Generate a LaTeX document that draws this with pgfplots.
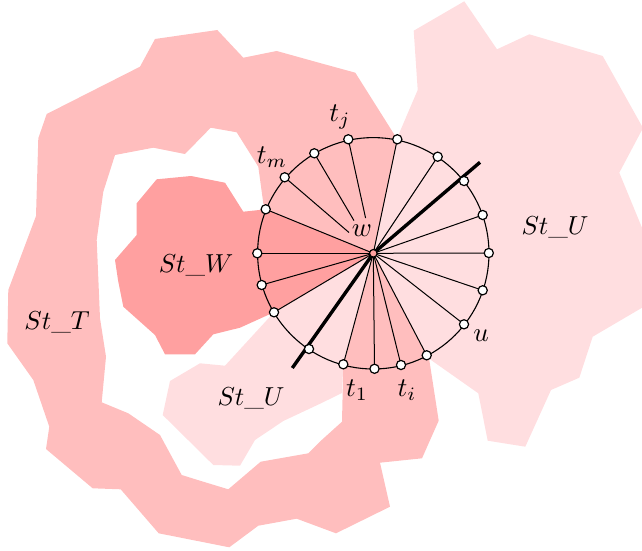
\documentclass[border=0pt]{standalone}
\usepackage{pgfplots}
\pgfplotsset{compat=1.18}
\definecolor{cT}{RGB}{255,190,190}
\definecolor{cW}{RGB}{255,160,160}
\definecolor{cU}{RGB}{255,222,224}
\begin{document}
\begin{tikzpicture}
\begin{axis}[x=0.5pt,y=0.5pt,xmin=0,xmax=642,ymin=0,ymax=551,y dir=reverse,
  hide axis,clip=true]
\addplot[draw=none,forget plot] coordinates {(0,0) (642,551)};
% St_T
\addplot[fill=cT,draw=none] coordinates {
(397.3,139.3) (355.3,72.7) (321,63.3) (276.7,51) (243.3,57.7) (217.3,30) (155,39) (140,66.7)
(46.7,114) (38.3,138.3) (36,216) (8.3,290) (7.3,343.3) (33.3,380) (49.3,426.7) (46,449)
(92.7,488.3) (120.7,489.3) (158.7,533.3) (229.3,547.3) (258.3,525.7) (296.7,518.7) (336,533.3)
(390,506.7) (380,462.7) (422,458.3) (438.7,420.7) (429.3,360) (426.7,355.3) (373.3,253.3)
(343.3,364.3) (342,421.7) (321.7,440) (308.3,453.3) (260.7,461.7) (228.3,489.3) (200,480.7)
(181.7,475) (160,435) (128.3,413.3) (101.7,402.3) (106,356.7) (100,318.3) (96.7,240)
(103.3,191.7) (115,155) (153.3,147.7) (185,154) (210.7,127.7) (236.7,132.3) (258.3,166.7)
(263.3,203.3) (265.7,209.3) (373.3,253.3) (397.3,139.3)};
% St_U right
\addplot[fill=cU,draw=none] coordinates {
(397.3,139.3) (397.7,136.7) (417.7,90) (413.7,30.7) (464.3,1.3) (497,49.3) (529.3,34.3)
(602.7,56) (643,128) (619.3,172.7) (645,235) (645,306) (592.7,336.7) (579.3,377.7) (551,390)
(525.3,446.7) (487.7,440.7) (478.3,393.3) (431,360) (426.7,355.3) (373.3,253.3) (397.3,139.3)};
% St_W
\addplot[fill=cW,draw=none] coordinates {
(265.7,209.3) (243.3,211.7) (225,182.7) (191,176) (156.7,179.3) (136.7,203.3) (136.7,235)
(115,260) (118,280) (123.3,306.7) (155,335) (165,354.3) (195,354.3) (213.3,334.3) (240,327.7)
(274,312.3) (373.3,253.3) (265.7,209.3)};
% St_U lower
\addplot[fill=cU,draw=none] coordinates {
(274,312.3) (225,365.7) (200,363.3) (170,381) (162.7,415) (213.3,465) (240,465.7) (255,440)
(283.3,421) (321,403.3) (342,393) (343.3,364.3) (373.3,253.3) (274,312.3)};
% spokes
\addplot[black,line width=0.5pt] coordinates {(373.3,253.3) (257.3,253.3)};
\addplot[black,line width=0.5pt] coordinates {(373.3,253.3) (265.7,209.3)};
\addplot[black,line width=0.5pt] coordinates {(349.0,232.5) (284.7,177.3)};
\addplot[black,line width=0.5pt] coordinates {(354.0,220.6) (314.3,153.3)};
\addplot[black,line width=0.5pt] coordinates {(365.6,218.1) (348.3,139.3)};
\addplot[black,line width=0.5pt] coordinates {(373.3,253.3) (397.3,139.3)};
\addplot[black,line width=0.5pt] coordinates {(373.3,253.3) (437.7,156.7)};
\addplot[black,line width=0.5pt] coordinates {(373.3,253.3) (482.7,215)};
\addplot[black,line width=0.5pt] coordinates {(373.3,253.3) (488.8,253.0)};
\addplot[black,line width=0.5pt] coordinates {(373.3,253.3) (482.7,290.3)};
\addplot[black,line width=0.5pt] coordinates {(373.3,253.3) (464,324.3)};
\addplot[black,line width=0.5pt] coordinates {(373.3,253.3) (426.7,355.3)};
\addplot[black,line width=0.5pt] coordinates {(373.3,253.3) (401,365)};
\addplot[black,line width=0.5pt] coordinates {(373.3,253.3) (374.5,368.8)};
\addplot[black,line width=0.5pt] coordinates {(373.3,253.3) (343.3,364.3)};
\addplot[black,line width=0.5pt] coordinates {(373.3,253.3) (274,312.3)};
\addplot[black,line width=0.5pt] coordinates {(373.3,253.3) (261.7,285)};
% circle
\draw[black,line width=0.55pt] (axis cs:373.3,253.3) circle[radius=57.85pt];
% thick line
\addplot[black,line width=1.7pt] coordinates {(292.3,368) (373.3,253.3) (480,162.3)};
% circle points
\addplot[only marks,mark=*,mark size=2.3pt,mark options={fill=white,draw=black,line width=0.6pt}] coordinates {
(257.3,253.3) (265.7,209.3) (284.7,177.3) (314.3,153.3) (348.3,139.3) (397.3,139.3) (437.7,156.7)
(464,181) (482.7,215) (488.8,253.0) (482.7,290.3) (464,324.3) (426.7,355.3) (401,365)
(374.5,368.8) (343.3,364.3) (309,349) (274,312.3) (261.7,285)};
% centre
\addplot[only marks,mark=*,mark size=1.9pt,mark options={fill=cW,draw=black,line width=0.6pt}] coordinates {(373.3,253.3)};
% labels
\node[scale=1.35] at (axis cs:340,117) {$t_j$};
\node[scale=1.35] at (axis cs:272,157) {$t_m$};
\node[scale=1.35] at (axis cs:362,231) {$w$};
\node[scale=1.3] at (axis cs:196,265) {$St\_W$};
\node[scale=1.3] at (axis cs:555,227) {$St\_U$};
\node[scale=1.3] at (axis cs:57,322) {$St\_T$};
\node[scale=1.3] at (axis cs:251,398) {$St\_U$};
\node[scale=1.35] at (axis cs:357,390) {$t_1$};
\node[scale=1.35] at (axis cs:407,390) {$t_i$};
\node[scale=1.35] at (axis cs:481,336) {$u$};
\end{axis}
\end{tikzpicture}
\end{document}
